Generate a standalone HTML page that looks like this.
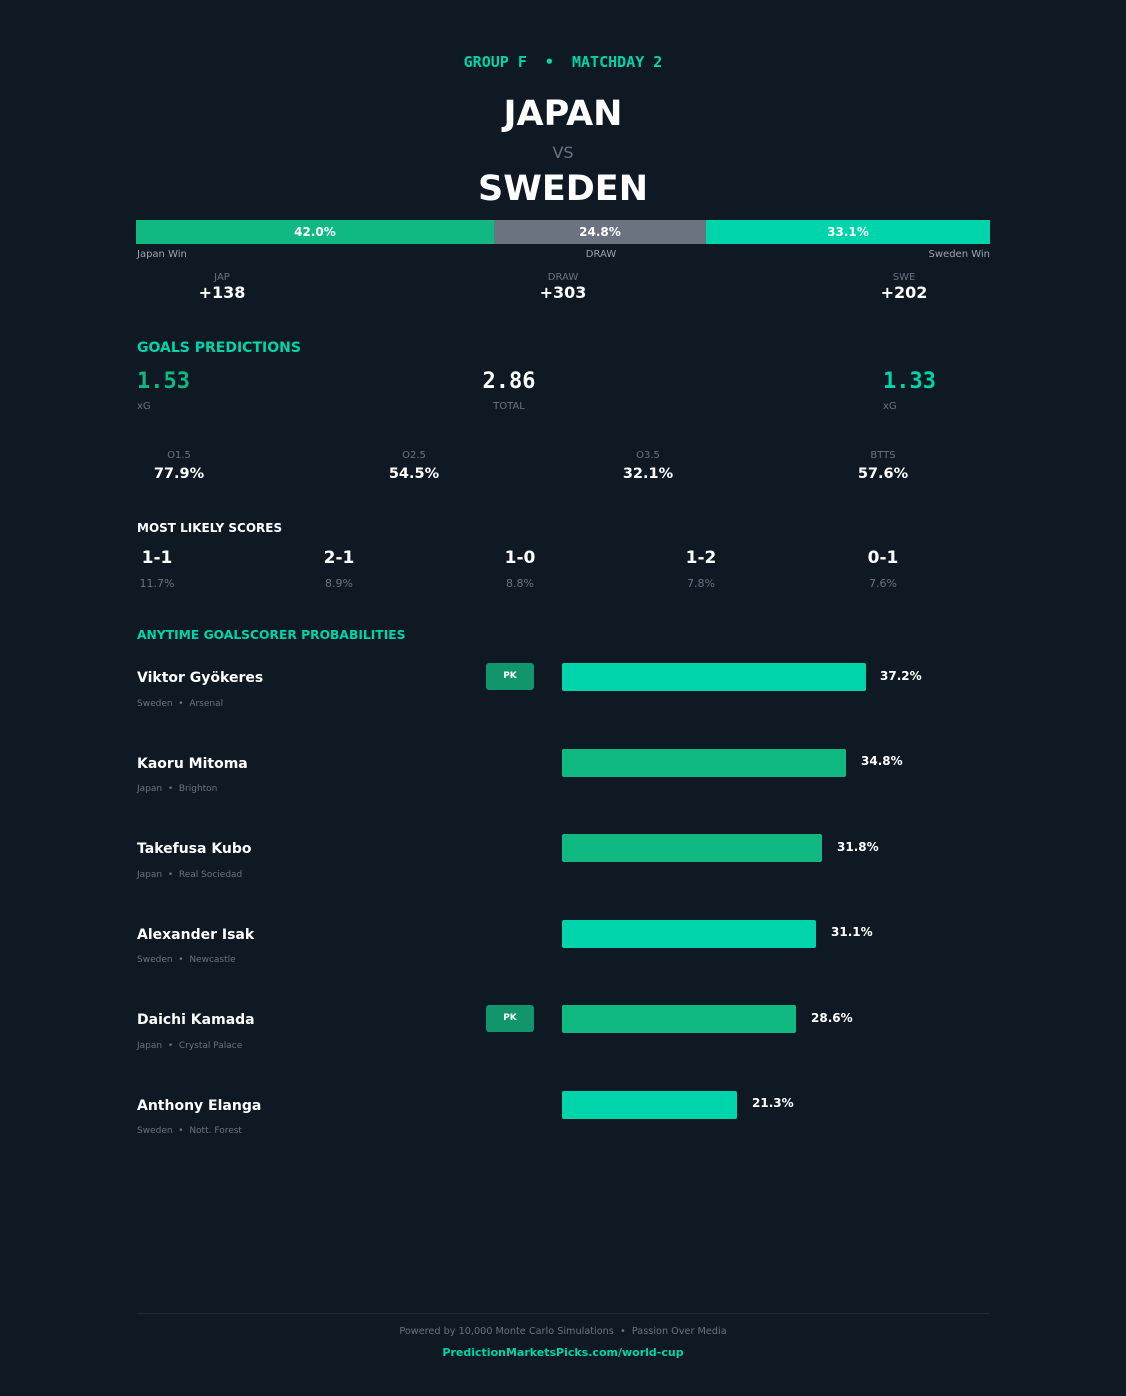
<!DOCTYPE html>
<html><head><meta charset="utf-8"><style>
body{margin:0;width:1126px;height:1396px;background:#0f1923;font-family:"DejaVu Sans","Liberation Sans",sans-serif;position:relative;overflow:hidden;color:#fff}
.a{position:absolute;white-space:nowrap}
.c{transform:translateX(-50%)}
.mono{font-family:"DejaVu Sans Mono","Liberation Mono",monospace}
.lab{font-size:10px;color:#6b7280}
.big{font-size:16px;font-weight:bold}
.name{font-size:14px;font-weight:bold}
.sub{font-size:9px;color:#6b7280}
.bar{position:absolute;left:562px;height:28px;border-radius:2px}
.pct{font-size:12px;font-weight:bold}
.pk{position:absolute;left:486px;width:48px;height:27px;background:#10966a;border-radius:3px;font-size:9px;font-weight:bold;text-align:center;line-height:27px}
</style></head><body>
<div class="a c mono" style="left:563px;top:53px;font-size:15px;font-weight:bold;color:#00d4aa">GROUP F &nbsp;•&nbsp; MATCHDAY 2</div>
<div class="a c" style="left:563px;top:94px;font-size:35px;font-weight:bold">JAPAN</div>
<div class="a c" style="left:563px;top:143px;font-size:16px;color:#6b7280">VS</div>
<div class="a c" style="left:563px;top:169px;font-size:35px;font-weight:bold">SWEDEN</div>
<div class="a" style="left:136px;top:220px;width:358px;height:24px;background:#10b981;font-size:12px;font-weight:bold;text-align:center;line-height:24px">42.0%</div>
<div class="a" style="left:494px;top:220px;width:212px;height:24px;background:#6b7280;font-size:12px;font-weight:bold;text-align:center;line-height:24px">24.8%</div>
<div class="a" style="left:706px;top:220px;width:284px;height:24px;background:#00d4aa;font-size:12px;font-weight:bold;text-align:center;line-height:24px">33.1%</div>
<div class="a" style="left:137px;top:249px;font-size:10px;color:#9ca3af">Japan Win</div>
<div class="a c" style="left:601px;top:249px;font-size:10px;color:#9ca3af">DRAW</div>
<div class="a" style="right:136px;top:249px;font-size:10px;color:#9ca3af">Sweden Win</div>
<div class="a c lab" style="left:222px;top:272px">JAP</div><div class="a c big" style="left:222px;top:283px">+138</div>
<div class="a c lab" style="left:563px;top:272px">DRAW</div><div class="a c big" style="left:563px;top:283px">+303</div>
<div class="a c lab" style="left:904px;top:272px">SWE</div><div class="a c big" style="left:904px;top:283px">+202</div>
<div class="a" style="left:137px;top:340px;font-size:14px;font-weight:bold;color:#00d4aa">GOALS PREDICTIONS</div>
<div class="a mono" style="left:137px;top:369px;font-size:22px;font-weight:bold;color:#10b981">1.53</div>
<div class="a lab" style="left:137px;top:401px">xG</div>
<div class="a c mono" style="left:509px;top:369px;font-size:22px;font-weight:bold">2.86</div>
<div class="a c lab" style="left:509px;top:401px">TOTAL</div>
<div class="a mono" style="left:883px;top:369px;font-size:22px;font-weight:bold;color:#00d4aa">1.33</div>
<div class="a lab" style="left:883px;top:401px">xG</div>
<div class="a c lab" style="left:179px;top:450px">O1.5</div><div class="a c" style="left:179px;top:466px;font-size:14.5px;font-weight:bold">77.9%</div>
<div class="a c lab" style="left:414px;top:450px">O2.5</div><div class="a c" style="left:414px;top:466px;font-size:14.5px;font-weight:bold">54.5%</div>
<div class="a c lab" style="left:648px;top:450px">O3.5</div><div class="a c" style="left:648px;top:466px;font-size:14.5px;font-weight:bold">32.1%</div>
<div class="a c lab" style="left:883px;top:450px">BTTS</div><div class="a c" style="left:883px;top:466px;font-size:14.5px;font-weight:bold">57.6%</div>
<div class="a" style="left:137px;top:521px;font-size:12px;font-weight:bold">MOST LIKELY SCORES</div>
<div class="a c big" style="left:157px;top:548px;font-size:17px">1-1</div><div class="a c" style="left:157px;top:577px;font-size:11px;color:#6b7280">11.7%</div>
<div class="a c big" style="left:339px;top:548px;font-size:17px">2-1</div><div class="a c" style="left:339px;top:577px;font-size:11px;color:#6b7280">8.9%</div>
<div class="a c big" style="left:520px;top:548px;font-size:17px">1-0</div><div class="a c" style="left:520px;top:577px;font-size:11px;color:#6b7280">8.8%</div>
<div class="a c big" style="left:701px;top:548px;font-size:17px">1-2</div><div class="a c" style="left:701px;top:577px;font-size:11px;color:#6b7280">7.8%</div>
<div class="a c big" style="left:883px;top:548px;font-size:17px">0-1</div><div class="a c" style="left:883px;top:577px;font-size:11px;color:#6b7280">7.6%</div>
<div class="a" style="left:137px;top:628px;font-size:12.3px;font-weight:bold;color:#00d4aa">ANYTIME GOALSCORER PROBABILITIES</div>

<div class="a name" style="left:137px;top:670px">Viktor Gyökeres</div><div class="a sub" style="left:137px;top:699px">Sweden &nbsp;•&nbsp; Arsenal</div>
<div class="pk" style="top:663px">PK</div><div class="bar" style="top:663px;width:304px;background:#00d4aa"></div><div class="a pct" style="left:880px;top:669px">37.2%</div>

<div class="a name" style="left:137px;top:756px">Kaoru Mitoma</div><div class="a sub" style="left:137px;top:784px">Japan &nbsp;•&nbsp; Brighton</div>
<div class="bar" style="top:749px;width:284px;background:#10b981"></div><div class="a pct" style="left:861px;top:754px">34.8%</div>

<div class="a name" style="left:137px;top:841px">Takefusa Kubo</div><div class="a sub" style="left:137px;top:870px">Japan &nbsp;•&nbsp; Real Sociedad</div>
<div class="bar" style="top:834px;width:260px;background:#10b981"></div><div class="a pct" style="left:837px;top:840px">31.8%</div>

<div class="a name" style="left:137px;top:927px">Alexander Isak</div><div class="a sub" style="left:137px;top:955px">Sweden &nbsp;•&nbsp; Newcastle</div>
<div class="bar" style="top:920px;width:254px;background:#00d4aa"></div><div class="a pct" style="left:831px;top:925px">31.1%</div>

<div class="a name" style="left:137px;top:1012px">Daichi Kamada</div><div class="a sub" style="left:137px;top:1041px">Japan &nbsp;•&nbsp; Crystal Palace</div>
<div class="pk" style="top:1005px">PK</div><div class="bar" style="top:1005px;width:234px;background:#10b981"></div><div class="a pct" style="left:811px;top:1011px">28.6%</div>

<div class="a name" style="left:137px;top:1098px">Anthony Elanga</div><div class="a sub" style="left:137px;top:1126px">Sweden &nbsp;•&nbsp; Nott. Forest</div>
<div class="bar" style="top:1091px;width:175px;background:#00d4aa"></div><div class="a pct" style="left:752px;top:1096px">21.3%</div>

<div class="a" style="left:137px;top:1313px;width:853px;height:1px;background:#1f2a36"></div>
<div class="a c" style="left:563px;top:1326px;font-size:9.7px;color:#6b7280">Powered by 10,000 Monte Carlo Simulations &nbsp;•&nbsp; Passion Over Media</div>
<div class="a c" style="left:563px;top:1346px;font-size:11px;font-weight:bold;color:#00d4aa">PredictionMarketsPicks.com/world-cup</div>
</body></html>
